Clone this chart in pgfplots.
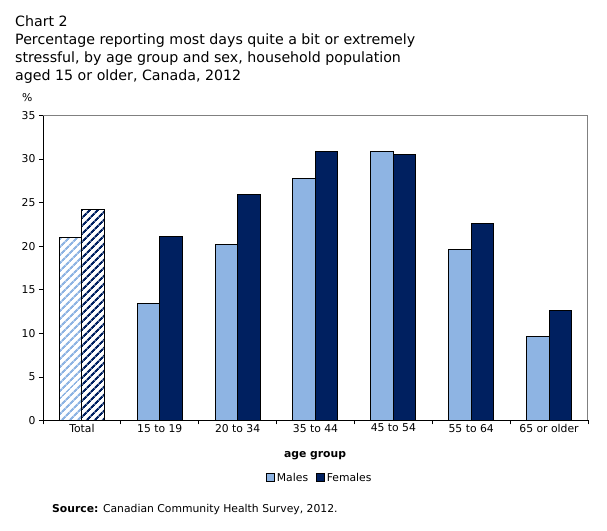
\documentclass[border=0pt]{standalone}
\usepackage{pgfplots}
\pgfplotsset{compat=1.18}
\usepackage{fontspec}
\setmainfont{DejaVu Sans}
\usetikzlibrary{patterns.meta}
\definecolor{males}{RGB}{142,180,227}
\definecolor{females}{RGB}{0,32,96}
\definecolor{frame}{RGB}{128,128,128}
\newcommand{\tfont}{\fontsize{14.2bp}{18bp}\selectfont}
\newcommand{\sfont}{\fontsize{10.8bp}{13bp}\selectfont}
\begin{document}
\begin{tikzpicture}
\useasboundingbox (0,0) rectangle (607bp,531bp);
% Title block
\node[anchor=base west, inner sep=0pt] at (15bp,504bp) {\tfont Chart 2};
\node[anchor=base west, inner sep=0pt] at (15bp,486bp) {\tfont Percentage reporting most days quite a bit or extremely};
\node[anchor=base west, inner sep=0pt] at (15bp,468bp) {\tfont stressful, by age group and sex, household population};
\node[anchor=base west, inner sep=0pt] at (15bp,450bp) {\tfont aged 15 or older, Canada, 2012};
\node[anchor=base west, inner sep=0pt] at (22bp,429bp) {\sfont \%};
\begin{axis}[
  at={(43bp,110.5bp)}, anchor=south west,
  scale only axis, width=545bp, height=305bp,
  xmin=-0.5, xmax=6.5, ymin=0, ymax=35,
  axis x line*=bottom, axis y line*=left,
  axis line style={black, line width=1bp},
  xtick={-0.5,0.5,...,6.5}, xticklabels={},
  extra x ticks={0,1,2,3,4,5,6},
  extra x tick labels={Total,15 to 19,20 to 34,35 to 44,45 to 54,55 to 64,65 or older},
  extra x tick style={major tick length=0pt},
  ytick={0,5,...,35},
  tick align=outside,
  major tick length=4bp,
  tick style={black, line width=0.8bp},
  tick label style={font=\sfont},
  /pgf/number format/assume math mode=true,
  legend style={at={(0.508,-0.1885)}, anchor=center, draw=none, fill=none,
    font=\sfont, legend columns=2,
    /tikz/every even column/.append style={column sep=6bp}},
  legend image code/.code={\draw[#1, draw=black, line width=0.7bp] (0bp,-3.5bp) rectangle (8bp,4.5bp);},
  clip=false,
]
\addplot[ybar, bar width=22.5bp, bar shift=-11.25bp, fill=males, draw=black, line width=1bp]
  coordinates {(1,13.4) (2,20.2) (3,27.8) (4,30.9) (5,19.6) (6,9.6)};
\addplot[ybar, bar width=22.5bp, bar shift=11.25bp, fill=females, draw=black, line width=1bp]
  coordinates {(1,21.1) (2,25.9) (3,30.9) (4,30.5) (5,22.6) (6,12.6)};
% Hatched bars for the total
\addplot[forget plot, ybar, bar width=22.5bp, bar shift=-11.25bp, draw=black, line width=1bp,
  pattern={Lines[angle=45, distance=6bp, line width=2.4bp]}, pattern color=males]
  coordinates {(0,21.0)};
\addplot[forget plot, ybar, bar width=22.5bp, bar shift=11.25bp, draw=black, line width=1bp,
  pattern={Lines[angle=45, distance=6bp, line width=2.4bp]}, pattern color=females]
  coordinates {(0,24.2)};
\legend{Males,Females}
\draw[frame, line width=1bp] (rel axis cs:0,1) -- (rel axis cs:1,1) -- (rel axis cs:1,0);
\end{axis}
\node[anchor=base, inner sep=0pt] at (315bp,73bp) {\sfont\bfseries age group};
\node[anchor=base west, inner sep=0pt] at (52bp,19bp) {\sfont\textbf{Source:} Canadian Community Health Survey, 2012.};
\end{tikzpicture}
\end{document}
